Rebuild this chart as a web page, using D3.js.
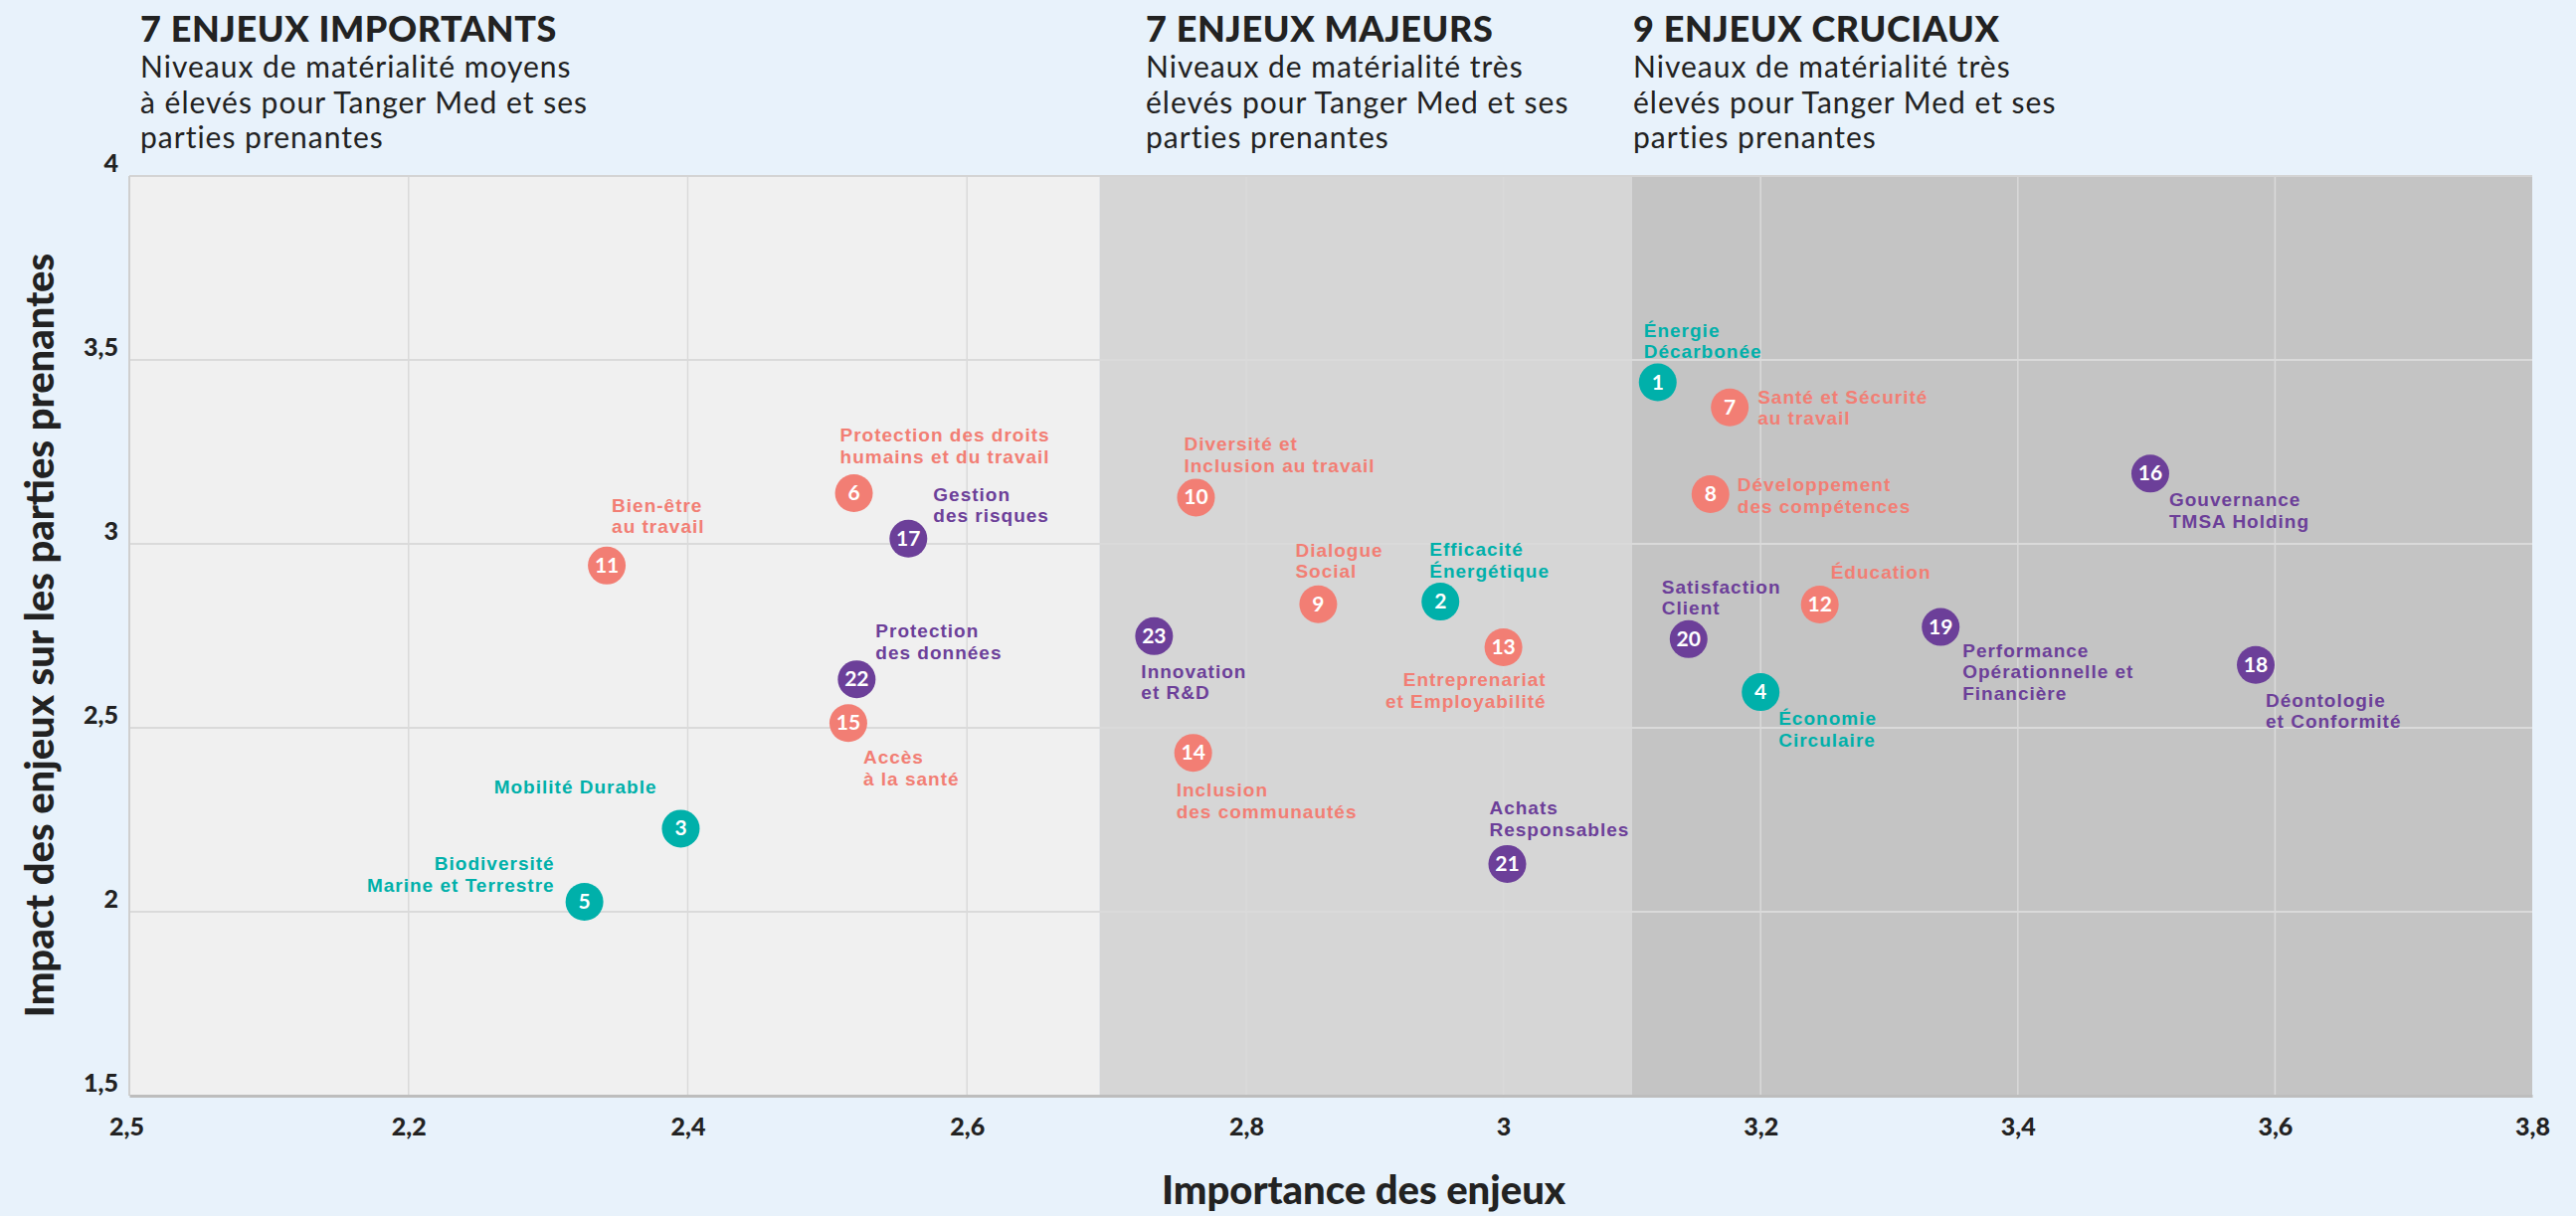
<!DOCTYPE html>
<html>
<head>
<meta charset="utf-8">
<script src="https://cdn.jsdelivr.net/npm/d3@7"></script>
<style>
  body { margin: 0; background: #e8f2fb; }
  svg { display: block; font-family: Lato, "Open Sans", sans-serif; }
</style>
</head>
<body>
<div id="chart-area"></div>
<script>
// enjeux (issues) : number, label, group, importance (x), impact (y)
const ids = [1, 2, 3, 4, 5, 6, 7, 8, 9, 10, 11, 12, 13, 14, 15, 16, 17, 18, 19, 20, 21, 22, 23]
const names = [
  ["Énergie", "Décarbonée"],
  ["Efficacité", "Énergétique"],
  ["Mobilité Durable"],
  ["Économie", "Circulaire"],
  ["Biodiversité", "Marine et Terrestre"],
  ["Protection des droits", "humains et du travail"],
  ["Santé et Sécurité", "au travail"],
  ["Développement", "des compétences"],
  ["Dialogue", "Social"],
  ["Diversité et", "Inclusion au travail"],
  ["Bien-être", "au travail"],
  ["Éducation"],
  ["Entreprenariat", "et Employabilité"],
  ["Inclusion", "des communautés"],
  ["Accès", "à la santé"],
  ["Gouvernance", "TMSA Holding"],
  ["Gestion", "des risques"],
  ["Déontologie", "et Conformité"],
  ["Performance", "Opérationnelle et", "Financière"],
  ["Satisfaction", "Client"],
  ["Achats", "Responsables"],
  ["Protection", "des données"],
  ["Innovation", "et R&D"]
]
const groups = ["env", "env", "env", "env", "env",
  "soc", "soc", "soc", "soc", "soc", "soc", "soc", "soc", "soc", "soc",
  "gov", "gov", "gov", "gov", "gov", "gov", "gov", "gov"]
const importance = [3.12, 2.951, 2.395, 3.2, 2.326, 2.519, 3.176, 3.161, 2.856, 2.764, 2.342, 3.246,
  3.0, 2.762, 2.515, 3.503, 2.558, 3.585, 3.34, 3.144, 3.003, 2.521, 2.734]
const impact = [3.439, 2.843, 2.226, 2.597, 2.027, 3.138, 3.371, 3.135, 2.836, 3.126, 2.941, 2.835,
  2.719, 2.432, 2.513, 3.191, 3.014, 2.671, 2.774, 2.741, 2.13, 2.632, 2.749]

// axes
const xTicks = [2.0, 2.2, 2.4, 2.6, 2.8, 3.0, 3.2, 3.4, 3.6, 3.8]
const xTickLabels = ["2,5", "2,2", "2,4", "2,6", "2,8", "3", "3,2", "3,4", "3,6", "3,8"]
const yTicks = [1.5, 2, 2.5, 3, 3.5, 4]
const yTickLabels = ["1,5", "2", "2,5", "3", "3,5", "4"]

// zones
const zoneBounds = [2.0, 2.695, 3.1, 3.8]
const zoneTitles = ["7 ENJEUX IMPORTANTS", "7 ENJEUX MAJEURS", "9 ENJEUX CRUCIAUX"]
const zoneTexts = [
  ["Niveaux de matérialité moyens", "à élevés pour Tanger Med et ses", "parties prenantes"],
  ["Niveaux de matérialité très", "élevés pour Tanger Med et ses", "parties prenantes"],
  ["Niveaux de matérialité très", "élevés pour Tanger Med et ses", "parties prenantes"]
]

// layout of the point labels: anchor, dx, dy of first line
const labelPlace = {
  1: ["start", -14, -46], 2: ["start", -11, -46], 3: ["end", -24, -35], 4: ["start", 18, 33],
  5: ["end", -30, -32], 6: ["start", -14, -52], 7: ["start", 28, -4], 8: ["start", 27, -3],
  9: ["start", -23, -48], 10: ["start", -12, -47], 11: ["start", 5, -54], 12: ["start", 11, -26],
  13: ["end", 43, 39], 14: ["start", -17, 44], 15: ["start", 15, 41], 16: ["start", 19, 33],
  17: ["start", 25, -38], 18: ["start", 10, 42], 19: ["start", 22, 30], 20: ["start", -27, -46],
  21: ["start", -18, -50], 22: ["start", 19, -42], 23: ["start", -13, 42]
}
const LINE_H = 21.6

const COLORS = { env: "#00b0aa", soc: "#f27e74", gov: "#6c3f99" }
const ZONE_FILL = ["#f0f0f0", "#d6d6d6", "#c4c4c4"]
const HEADER_X = [141, 1152, 1642]

const MARGIN = { LEFT: 130, RIGHT: 44, TOP: 177, BOTTOM: 121 }
const W = 2590, H = 1223
const WIDTH = W - MARGIN.LEFT - MARGIN.RIGHT
const HEIGHT = H - MARGIN.TOP - MARGIN.BOTTOM

const svg = d3.select("#chart-area").append("svg")
  .attr("width", W)
  .attr("height", H)

svg.append("rect").attr("width", W).attr("height", H).attr("fill", "#e8f2fb")

const g = svg.append("g")
  .attr("transform", "translate(" + MARGIN.LEFT + ", " + MARGIN.TOP + ")")

const x = d3.scaleLinear()
  .domain([2.0, 2.8, 3.8])
  .range([0, 1123, WIDTH])

const y = d3.scaleLinear()
  .domain([1.5, 4])
  .range([HEIGHT, 0])

// zones background
g.selectAll(".zone")
  .data(zoneTitles)
  .enter().append("rect")
    .attr("class", "zone")
    .attr("x", function(d, i) { return x(zoneBounds[i]) })
    .attr("width", function(d, i) { return x(zoneBounds[i + 1]) - x(zoneBounds[i]) })
    .attr("y", 0)
    .attr("height", HEIGHT)
    .attr("fill", function(d, i) { return ZONE_FILL[i] })

// grid
g.selectAll(".vgrid")
  .data(xTicks.slice(1, -1))
  .enter().append("line")
    .attr("x1", function(d) { return x(d) })
    .attr("x2", function(d) { return x(d) })
    .attr("y1", 0)
    .attr("y2", HEIGHT)
    .attr("stroke", "#dadada")
    .attr("stroke-width", 1.5)

g.selectAll(".hgrid")
  .data(yTicks.slice(1, -1))
  .enter().append("line")
    .attr("x1", 0)
    .attr("x2", WIDTH)
    .attr("y1", function(d) { return y(d) })
    .attr("y2", function(d) { return y(d) })
    .attr("stroke", "#dadada")
    .attr("stroke-width", 2)

// frame
g.append("line").attr("x1", 0).attr("x2", WIDTH).attr("y1", 0).attr("y2", 0)
  .attr("stroke", "#d4d4d4").attr("stroke-width", 2)
g.append("line").attr("x1", 0).attr("x2", 0).attr("y1", 0).attr("y2", HEIGHT)
  .attr("stroke", "#cfcfcf").attr("stroke-width", 2)

// x axis
const xAxisCall = d3.axisBottom(x)
  .tickValues(xTicks)
  .tickSize(0)
  .tickFormat(function(d, i) { return xTickLabels[i] })
const xAxis = g.append("g")
  .attr("class", "x axis")
  .attr("transform", "translate(0, " + HEIGHT + ")")
  .call(xAxisCall)
xAxis.select(".domain").attr("stroke", "#bdbdbd").attr("stroke-width", 3)
xAxis.selectAll("text")
  .attr("y", 40)
  .attr("dy", 0)
  .attr("font-size", "25px")
  .attr("font-weight", 900)
  .attr("font-family", "Lato, sans-serif")
  .attr("fill", "#222")
xAxis.select(".tick text").attr("dx", -3)

// y axis
const yAxisCall = d3.axisLeft(y)
  .tickValues(yTicks)
  .tickSize(0)
  .tickFormat(function(d, i) { return yTickLabels[i] })
const yAxis = g.append("g")
  .attr("class", "y axis")
  .call(yAxisCall)
yAxis.select(".domain").remove()
yAxis.selectAll("text")
  .attr("x", -11)
  .attr("dy", -5)
  .attr("font-size", "25px")
  .attr("font-weight", 900)
  .attr("font-family", "Lato, sans-serif")
  .attr("fill", "#222")

// axis labels
svg.append("text")
  .attr("x", 1371)
  .attr("y", 1211)
  .attr("text-anchor", "middle")
  .attr("font-size", "40px")
  .attr("font-weight", 900)
  .attr("fill", "#222")
  .text("Importance des enjeux")

svg.append("text")
  .attr("transform", "translate(54, " + 639 + ") rotate(-90)")
  .attr("text-anchor", "middle")
  .attr("font-size", "40px")
  .attr("font-weight", 900)
  .attr("fill", "#222")
  .text("Impact des enjeux sur les parties prenantes")

// zone headers
zoneTitles.forEach(function(t, i) {
  svg.append("text")
    .attr("x", HEADER_X[i])
    .attr("y", 42)
    .attr("font-size", "36px")
    .attr("letter-spacing", "0.6px")
    .attr("font-weight", 900)
    .attr("fill", "#222")
    .text(t)
  svg.append("text")
    .attr("x", HEADER_X[i])
    .attr("y", 78)
    .attr("font-size", "30px")
    .attr("letter-spacing", "1px")
    .attr("fill", "#222")
    .selectAll("tspan")
    .data(zoneTexts[i])
    .enter().append("tspan")
      .attr("x", HEADER_X[i])
      .attr("dy", function(d, j) { return j === 0 ? 0 : 35.5 })
      .text(function(d) { return d })
})

// points
const data = ids.map(function(id, i) {
  return { id: id, name: names[i], group: groups[i], x: importance[i], y: impact[i] }
})

const pts = g.selectAll(".pt")
  .data(data)
  .enter().append("g")
    .attr("class", "pt")
    .attr("transform", function(d) { return "translate(" + x(d.x) + ", " + y(d.y) + ")" })

pts.append("text")
  .attr("text-anchor", function(d) { return labelPlace[d.id][0] })
  .attr("font-family", "'Liberation Sans', Arial, sans-serif")
  .attr("font-size", "19px")
  .attr("letter-spacing", "1px")
  .attr("font-weight", "bold")
  .attr("fill", function(d) { return COLORS[d.group] })
  .each(function(d) {
    const p = labelPlace[d.id]
    d3.select(this).selectAll("tspan")
      .data(d.name)
      .enter().append("tspan")
        .attr("x", p[1])
        .attr("y", function(s, j) { return p[2] + j * LINE_H })
        .text(function(s) { return s })
  })

pts.append("circle")
  .attr("r", 19)
  .attr("fill", function(d) { return COLORS[d.group] })

pts.append("text")
  .attr("text-anchor", "middle")
  .attr("dy", 7)
  .attr("font-size", "21px")
  .attr("font-weight", "bold")
  .attr("fill", "#fff")
  .text(function(d) { return d.id })
</script>
</body>
</html>
